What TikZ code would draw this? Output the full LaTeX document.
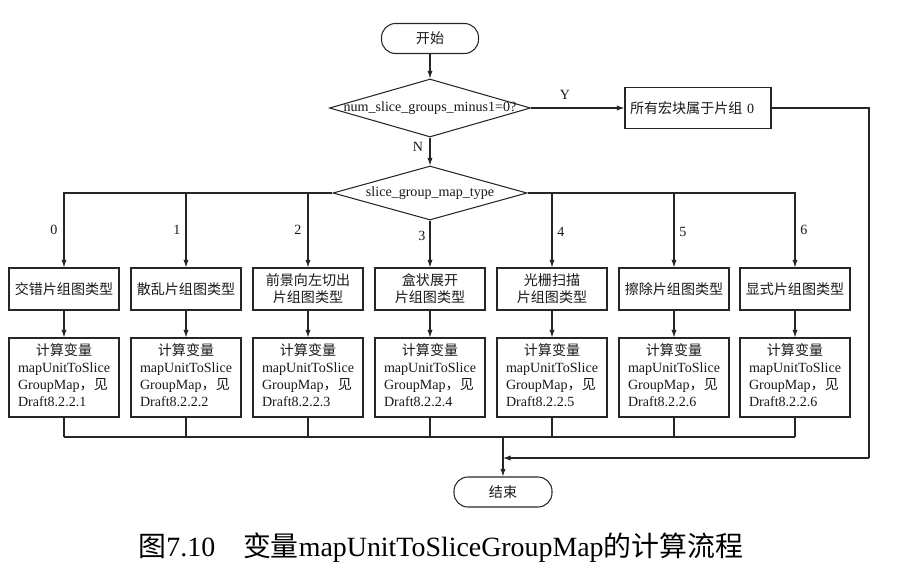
\documentclass[tikz,border=0pt]{standalone}
\usepackage{fontspec}
\setmainfont{Liberation Serif}
\newfontfamily\cjk{Noto Sans CJK SC}
\usetikzlibrary{arrows.meta,shapes.geometric}
\newcommand\zh[1]{{\cjk #1}}
\newcommand\pxu{0.03cm}
% body text of the boxes: one line of "compute" text
\newcommand\calctext[1]{\begin{tabular}{@{}l@{}}\multicolumn{1}{@{}c@{}}{\zh{计算变量}}\\ mapUnitToSlice\\ GroupMap\zh{，见}\\ Draft#1\end{tabular}}

\begin{document}
\begin{tikzpicture}[x=0.03cm,y=-0.03cm,
  line width=0.9pt,
  every node/.style={font=\fontsize{12}{14.5}\selectfont, text=black!90},
  flow/.style={draw=black!85, line width=0.9pt},
  typebox/.style={flow, rectangle, minimum width=110*\pxu, minimum height=42*\pxu, inner sep=0pt, align=center},
  calcbox/.style={flow, rectangle, minimum width=110*\pxu, minimum height=79*\pxu, inner sep=0pt},
  term/.style={flow, rectangle, rounded corners=14*\pxu, minimum width=97*\pxu, minimum height=30*\pxu, inner sep=0pt},
  decision/.style={flow, diamond, inner sep=0pt},
  arr/.style={flow, -{Latex[length=6.5pt,width=4.5pt]}},
  line/.style={flow},
  lbl/.style={inner sep=0pt}]
\useasboundingbox (0,0) rectangle (904,580);

% start and first test
\node[term] (start) at (430,38.5) {\zh{开始}};
\node[decision, minimum width=201*\pxu, minimum height=58*\pxu] (d1) at (430,108) {};
\node[lbl] (d1t) at (d1) {num\_slice\_groups\_minus1=0?};
\node[typebox, minimum width=0pt, text width=136*\pxu, inner xsep=5*\pxu, align=left, minimum height=41*\pxu] (all0) at (698,108) {\zh{所有宏块属于片组} 0};

% second test
\node[decision, minimum width=194*\pxu, minimum height=54*\pxu] (d2) at (430,193) {};
\node[lbl] (d2t) at (d2) {slice\_group\_map\_type};

% the seven map types
\node[typebox] (t0) at (64,289)  {\zh{交错片组图类型}};
\node[typebox] (t1) at (186,289) {\zh{散乱片组图类型}};
\node[typebox] (t2) at (308,289) {\zh{前景向左切出}\\\zh{片组图类型}};
\node[typebox] (t3) at (430,289) {\zh{盒状展开}\\\zh{片组图类型}};
\node[typebox] (t4) at (552,289) {\zh{光栅扫描}\\\zh{片组图类型}};
\node[typebox] (t5) at (674,289) {\zh{擦除片组图类型}};
\node[typebox] (t6) at (795,289) {\zh{显式片组图类型}};

\node[calcbox] (c0) at (64,377.5)  {\calctext{8.2.2.1}};
\node[calcbox] (c1) at (186,377.5) {\calctext{8.2.2.2}};
\node[calcbox] (c2) at (308,377.5) {\calctext{8.2.2.3}};
\node[calcbox] (c3) at (430,377.5) {\calctext{8.2.2.4}};
\node[calcbox] (c4) at (552,377.5) {\calctext{8.2.2.5}};
\node[calcbox] (c5) at (674,377.5) {\calctext{8.2.2.6}};
\node[calcbox] (c6) at (795,377.5) {\calctext{8.2.2.6}};

\node[term, minimum width=98*\pxu] (stop) at (503,492) {\zh{结束}};

% helper points for the collecting lines
\coordinate (bl) at (64,437);
\coordinate (br) at (795,437);
\coordinate (mid) at (503,437);
\coordinate (loop) at (869,458);
\coordinate (join) at (503,458);

% connectors
\draw[arr] (start) -- (d1);
\draw[arr] (d1.east) -- (all0.west);
\draw[arr] (d1.south) -- (d2.north);
\draw[line] (all0.east) -| (loop);
\draw[arr] (loop) -- (join);

\draw[arr] (d2.west) -| (t0.north);
\draw[arr] (d2.west) -| (t1.north);
\draw[arr] (d2.west) -| (t2.north);
\draw[arr] (d2.south) -- (t3.north);
\draw[arr] (d2.east) -| (t4.north);
\draw[arr] (d2.east) -| (t5.north);
\draw[arr] (d2.east) -| (t6.north);

\foreach \i in {0,...,6} {
  \draw[arr] (t\i.south) -- (c\i.north);
  \draw[line] (c\i.south) -- (c\i.south |- bl);
}
\draw[line] (bl) -- (br);
\draw[arr] (mid) -- (stop.north);

% branch labels
\node[lbl] (ly) at (565,95) {Y};
\node[lbl] (ln) at (418,147) {N};
\node[lbl] (l0) at (54,230) {0};
\node[lbl] (l1) at (177,230) {1};
\node[lbl] (l2) at (298,230) {2};
\node[lbl] (l3) at (422,236) {3};
\node[lbl] (l4) at (561,232) {4};
\node[lbl] (l5) at (683,232) {5};
\node[lbl] (l6) at (804,230) {6};

% caption
\node[anchor=base west, inner sep=0pt, text=black, font=\fontsize{23.8}{27}\selectfont] (cap) at (138,556)
  {\zh{图}7.10\hspace{1em}\zh{变量}mapUnitToSliceGroupMap\zh{的计算流程}};
\end{tikzpicture}
\end{document}
